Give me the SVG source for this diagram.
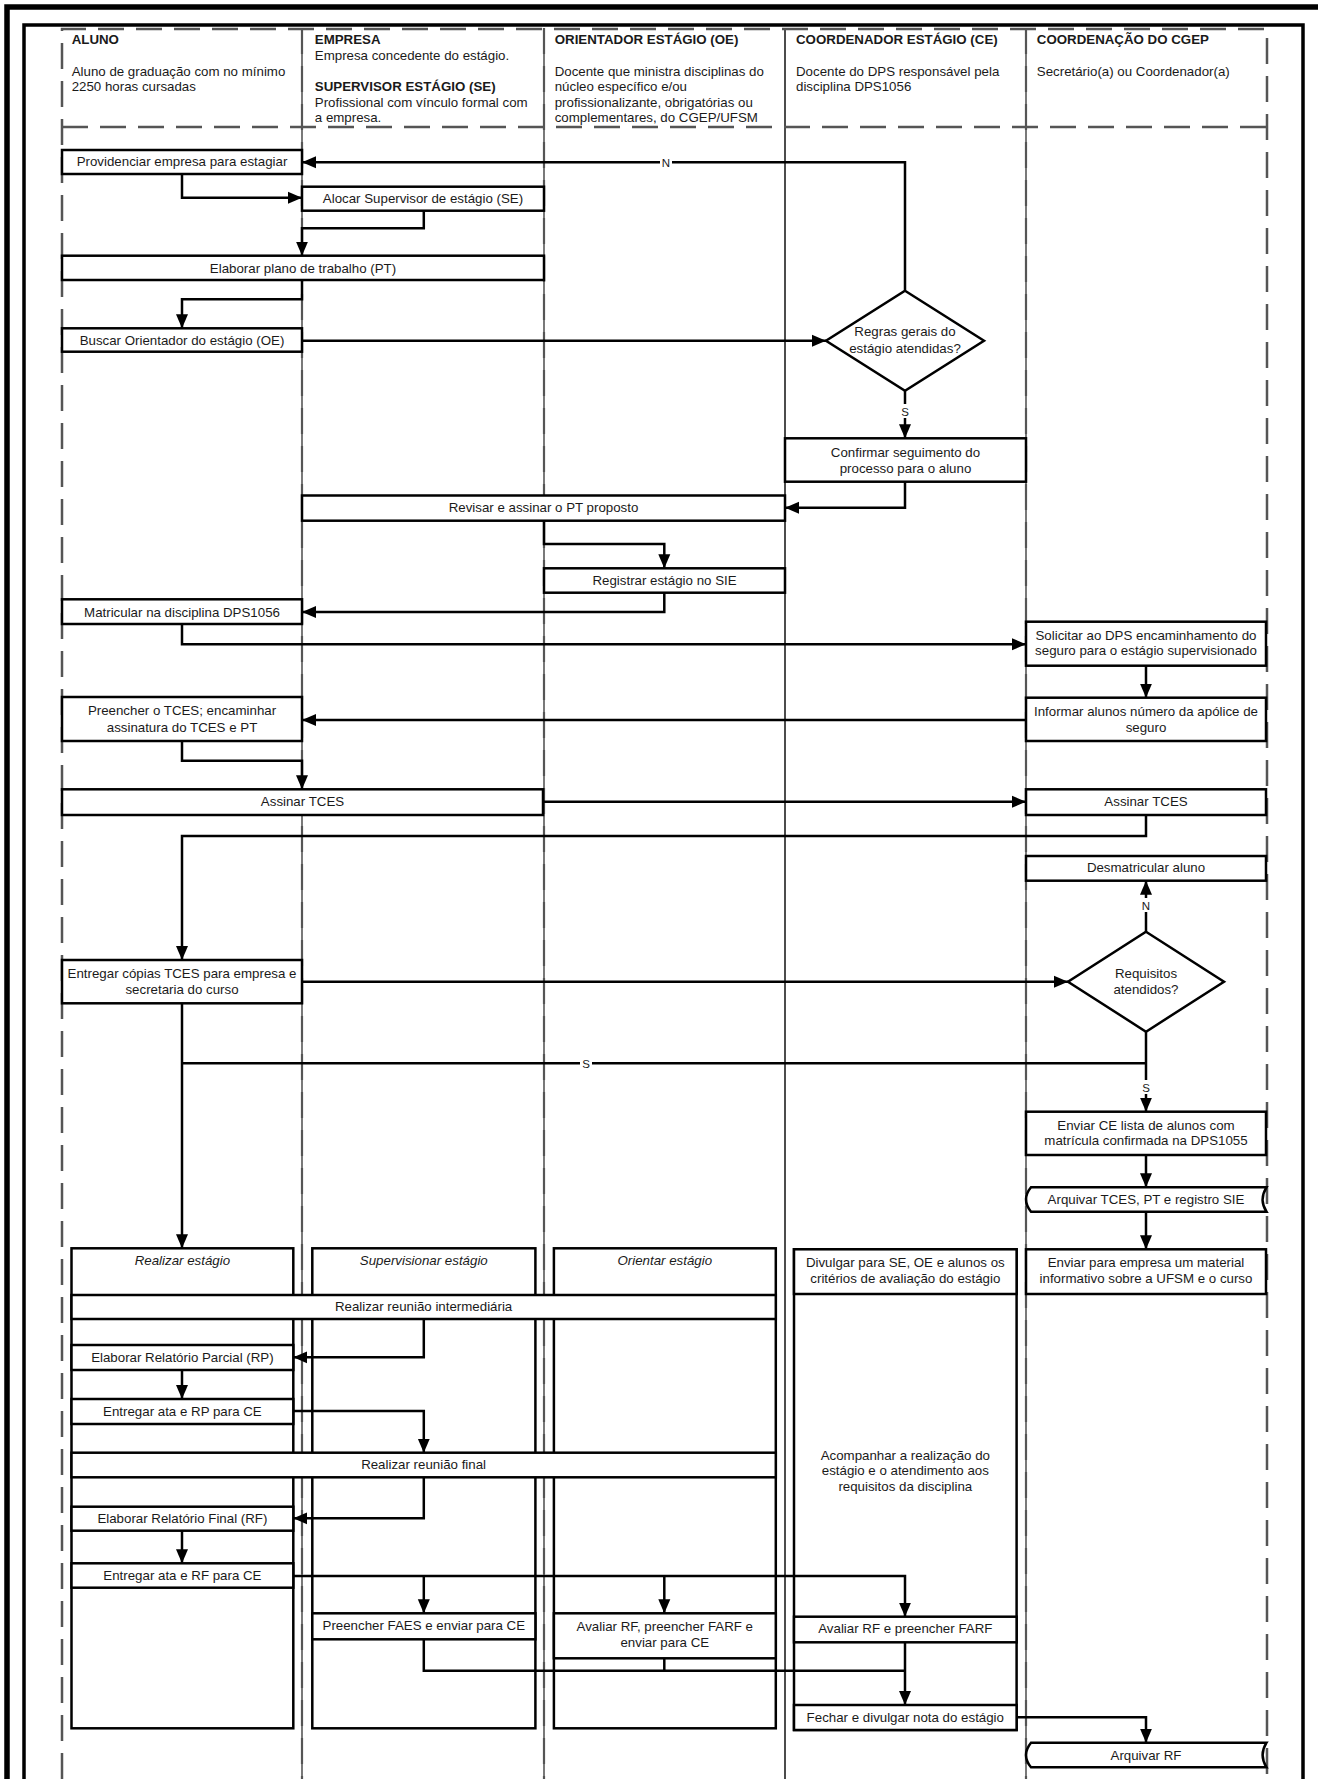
<svg xmlns="http://www.w3.org/2000/svg" width="1318" height="1779" viewBox="0 0 1318 1779">
<style>
.bx{fill:#fff;stroke:#000;stroke-width:2.5}
.ct{fill:none;stroke:#000;stroke-width:2.5}
.t{font-family:"Liberation Sans",Arial,sans-serif;font-size:13.3px;fill:#1a1a1a;text-anchor:middle}
.h{font-family:"Liberation Sans",Arial,sans-serif;font-size:13.3px;fill:#1a1a1a}
.hb{font-weight:bold}
.it{font-style:italic}
.c{fill:none;stroke:#000;stroke-width:2.5}
.a{marker-end:url(#ah)}
.lb{font-family:"Liberation Sans",Arial,sans-serif;font-size:11.5px;fill:#1a1a1a;text-anchor:middle}
.pool{fill:none;stroke:#555;stroke-width:2.5;stroke-dasharray:26 12}
.sep{fill:none;stroke:#222;stroke-width:1.2}
.sepd{fill:none;stroke:#555;stroke-width:2.2;stroke-dasharray:26 12}
</style>
<defs>
<marker id="ah" markerUnits="userSpaceOnUse" markerWidth="14" markerHeight="13" viewBox="0 0 14 13" refX="14" refY="6.5" orient="auto">
<path d="M0,0.5 L14,6.5 L0,12.5 Z" fill="#000"/>
</marker>
</defs>
<rect width="1318" height="1779" fill="#fff"/>
<g id="frame">
<path d="M7,1790 V7 H1330" fill="none" stroke="#000" stroke-width="5.5"/>
<path d="M24,1790 V25 H1303 V1790" fill="none" stroke="#000" stroke-width="3.5"/>
</g>
<g id="pool">
<path class="sep" d="M302,28 V1779 M544,28 V1779 M1026,28 V1779"/>
<path class="sepd" d="M302,28 V1779 M544,28 V1779 M1026,28 V1779"/>
<path d="M785,28 V1779" fill="none" stroke="#111" stroke-width="1.5"/>
<path class="pool" d="M62,1779 V29 H1267 V1779"/>
<path class="pool" d="M62,127 H1267"/>
</g>
<g id="headers">
<text class="h hb" x="71.7" y="43.5">ALUNO</text>
<text class="h" x="71.7" y="75.5">Aluno de graduação com no mínimo</text>
<text class="h" x="71.7" y="91.2">2250 horas cursadas</text>
<text class="h hb" x="314.8" y="43.5">EMPRESA</text>
<text class="h" x="314.8" y="59.5">Empresa concedente do estágio.</text>
<text class="h hb" x="314.8" y="91.2">SUPERVISOR ESTÁGIO (SE)</text>
<text class="h" x="314.8" y="106.8">Profissional com vínculo formal com</text>
<text class="h" x="314.8" y="122">a empresa.</text>
<text class="h hb" x="554.7" y="43.5">ORIENTADOR ESTÁGIO (OE)</text>
<text class="h" x="554.7" y="75.5">Docente que ministra disciplinas do</text>
<text class="h" x="554.7" y="91.2">núcleo específico e/ou</text>
<text class="h" x="554.7" y="106.8">profissionalizante, obrigatórias ou</text>
<text class="h" x="554.7" y="122">complementares, do CGEP/UFSM</text>
<text class="h hb" x="796" y="43.5">COORDENADOR ESTÁGIO (CE)</text>
<text class="h" x="796" y="75.5">Docente do DPS responsável pela</text>
<text class="h" x="796" y="91.2">disciplina DPS1056</text>
<text class="h hb" x="1036.8" y="43.5">COORDENAÇÃO DO CGEP</text>
<text class="h" x="1036.8" y="75.5">Secretário(a) ou Coordenador(a)</text>
</g>
<g id="containers">
<g id="n-realizar-estagio"><rect class="ct" x="71.5" y="1248.3" width="221.8" height="480"/><text class="t it" x="182.4" y="1264.7">Realizar estágio</text></g>
<g id="n-supervisionar"><rect class="ct" x="312.3" y="1248.3" width="223.1" height="480"/><text class="t it" x="423.8" y="1264.7">Supervisionar estágio</text></g>
<g id="n-orientar"><rect class="ct" x="553.9" y="1248.3" width="221.9" height="480"/><text class="t it" x="664.8" y="1264.7">Orientar estágio</text></g>
<g id="n-acompanhar"><rect class="ct" x="794" y="1249.3" width="222.6" height="480.7"/><text class="t" x="905.3" y="1459.7">Acompanhar a realização do</text><text class="t" x="905.3" y="1475.4">estágio e o atendimento aos</text><text class="t" x="905.3" y="1491.4">requisitos da disciplina</text></g>
</g>
<g id="connectors">
<path class="c a" d="M905,290 V162.3 H302"/>
<path class="c a" d="M182,174 V197.7 H302"/>
<path class="c a" d="M423.8,210.7 V228.3 H302 V255.7"/>
<path class="c a" d="M302,280 V299.3 H182 V328.3"/>
<path class="c a" d="M302,340.7 H826"/>
<path class="c a" d="M905,390.7 V438.3"/>
<path class="c a" d="M905,481.7 V507.7 H785"/>
<path class="c a" d="M544,520.7 V544 H664.3 V568.3"/>
<path class="c a" d="M664.3,592.7 V612 H302"/>
<path class="c a" d="M182,624 V644.3 H1026"/>
<path class="c a" d="M1146,665.7 V697.7"/>
<path class="c a" d="M1026,720 H302"/>
<path class="c a" d="M182,741 V760.7 H302 V789.3"/>
<path class="c a" d="M543,801.7 H1026"/>
<path class="c a" d="M1146,815 V836 H182 V960"/>
<path class="c a" d="M302,981.7 H1068"/>
<path class="c a" d="M1146,931.7 V880.7"/>
<path class="c a" d="M1146,1031.7 V1111.7"/>
<path class="c" d="M1146,1063.3 H182"/>
<path class="c a" d="M182,1003.3 V1248.3"/>
<path class="c a" d="M1146,1155 V1187.3"/>
<path class="c a" d="M1146,1211.7 V1249.3"/>
<path class="c a" d="M423.8,1319 V1357.3 H293.3"/>
<path class="c a" d="M182,1370 V1399"/>
<path class="c a" d="M293.3,1411 H423.8 V1452.7"/>
<path class="c a" d="M423.8,1477.3 V1518.3 H293.3"/>
<path class="c a" d="M182,1530.7 V1563.3"/>
<path class="c a" d="M293.3,1576 H905 V1616.7"/>
<path class="c a" d="M423.8,1576 V1613.3"/>
<path class="c a" d="M664.3,1576 V1613.3"/>
<path class="c" d="M423.8,1639.3 V1670.7 H905"/>
<path class="c" d="M664.3,1658.3 V1670.7"/>
<path class="c a" d="M905,1642.3 V1705"/>
<path class="c a" d="M1016.6,1717.3 H1146 V1742.7"/>
<g id="labels">
<rect x="660" y="155" width="12" height="14" fill="#fff"/><text class="lb" x="666" y="166.5">N</text>
<rect x="899" y="404" width="12" height="14" fill="#fff"/><text class="lb" x="905" y="415.5">S</text>
<rect x="1140" y="898" width="12" height="14" fill="#fff"/><text class="lb" x="1146" y="909.5">N</text>
<rect x="580" y="1056" width="12" height="14" fill="#fff"/><text class="lb" x="586" y="1067.5">S</text>
<rect x="1140" y="1080" width="12" height="14" fill="#fff"/><text class="lb" x="1146" y="1091.5">S</text>
</g>
</g>
<g id="nodes">
<g id="n1"><rect class="bx" x="62" y="150" width="240" height="24"/><text class="t" x="182" y="166.4">Providenciar empresa para estagiar</text></g>
<g id="n2"><rect class="bx" x="302" y="186.7" width="242" height="24"/><text class="t" x="423" y="203">Alocar Supervisor de estágio (SE)</text></g>
<g id="n3"><rect class="bx" x="62" y="255.7" width="482" height="24.3"/><text class="t" x="303" y="273">Elaborar plano de trabalho (PT)</text></g>
<g id="n4"><rect class="bx" x="62" y="328.3" width="240" height="23.4"/><text class="t" x="182" y="344.7">Buscar Orientador do estágio (OE)</text></g>
<g id="n5"><polygon class="bx" points="905,290.7 984,340.7 905,390.7 826,340.7"/><text class="t" x="905" y="336.4">Regras gerais do</text><text class="t" x="905" y="353">estágio atendidas?</text></g>
<g id="n6"><rect class="bx" x="785" y="438.3" width="241" height="43.4"/><text class="t" x="905.5" y="457">Confirmar seguimento do</text><text class="t" x="905.5" y="473">processo para o aluno</text></g>
<g id="n7"><rect class="bx" x="302" y="495.5" width="483" height="25.2"/><text class="t" x="543.5" y="512">Revisar e assinar o PT proposto</text></g>
<g id="n8"><rect class="bx" x="544" y="568.3" width="241" height="24.4"/><text class="t" x="664.5" y="584.7">Registrar estágio no SIE</text></g>
<g id="n9"><rect class="bx" x="62" y="599.3" width="240" height="24.7"/><text class="t" x="182" y="616.5">Matricular na disciplina DPS1056</text></g>
<g id="n10"><rect class="bx" x="1026" y="621.7" width="240" height="44"/><text class="t" x="1146" y="639.7">Solicitar ao DPS encaminhamento do</text><text class="t" x="1146" y="655.4">seguro para o estágio supervisionado</text></g>
<g id="n11"><rect class="bx" x="1026" y="697.7" width="240" height="43.3"/><text class="t" x="1146" y="715.7">Informar alunos número da apólice de</text><text class="t" x="1146" y="732">seguro</text></g>
<g id="n12"><rect class="bx" x="62" y="697" width="240" height="44"/><text class="t" x="182" y="715.4">Preencher o TCES; encaminhar</text><text class="t" x="182" y="732">assinatura do TCES e PT</text></g>
<g id="n13"><rect class="bx" x="62" y="789.3" width="481" height="25.7"/><text class="t" x="302.5" y="806">Assinar TCES</text></g>
<g id="n14"><rect class="bx" x="1026" y="789.3" width="240" height="25.7"/><text class="t" x="1146" y="806">Assinar TCES</text></g>
<g id="n15"><rect class="bx" x="1026" y="856" width="240" height="24.7"/><text class="t" x="1146" y="872.4">Desmatricular aluno</text></g>
<g id="n16"><rect class="bx" x="62" y="960" width="240" height="43.3"/><text class="t" x="182" y="978">Entregar cópias TCES para empresa e</text><text class="t" x="182" y="994">secretaria do curso</text></g>
<g id="n17"><polygon class="bx" points="1146,931.7 1224,981.7 1146,1031.7 1068,981.7"/><text class="t" x="1146" y="978">Requisitos</text><text class="t" x="1146" y="994">atendidos?</text></g>
<g id="n18"><rect class="bx" x="1026" y="1111.7" width="240" height="43.3"/><text class="t" x="1146" y="1129.7">Enviar CE lista de alunos com</text><text class="t" x="1146" y="1145.4">matrícula confirmada na DPS1055</text></g>
<g id="n19"><path class="bx" d="M1031,1187.3 H1266.5 Q1258.7,1199.5 1266.5,1211.7 H1031 Q1021,1199.5 1031,1187.3 Z"/><text class="t" x="1146" y="1203.7">Arquivar TCES, PT e registro SIE</text></g>
<g id="n20"><rect class="bx" x="794" y="1249.3" width="222.6" height="44.7"/><text class="t" x="905.3" y="1267">Divulgar para SE, OE e alunos os</text><text class="t" x="905.3" y="1283">critérios de avaliação do estágio</text></g>
<g id="n21"><rect class="bx" x="1026" y="1249.3" width="240" height="44.7"/><text class="t" x="1146" y="1267">Enviar para empresa um material</text><text class="t" x="1146" y="1283">informativo sobre a UFSM e o curso</text></g>
<g id="n22"><rect class="bx" x="71.5" y="1295" width="704.3" height="24"/><text class="t" x="423.6" y="1311.4">Realizar reunião intermediária</text></g>
<g id="n23"><rect class="bx" x="71.5" y="1345" width="221.8" height="25"/><text class="t" x="182.4" y="1361.7">Elaborar Relatório Parcial (RP)</text></g>
<g id="n24"><rect class="bx" x="71.5" y="1399" width="221.8" height="25"/><text class="t" x="182.4" y="1415.7">Entregar ata e RP para CE</text></g>
<g id="n25"><rect class="bx" x="71.5" y="1452.7" width="704.3" height="24.6"/><text class="t" x="423.6" y="1469">Realizar reunião final</text></g>
<g id="n26"><rect class="bx" x="71.5" y="1506.7" width="221.8" height="24"/><text class="t" x="182.4" y="1523">Elaborar Relatório Final (RF)</text></g>
<g id="n27"><rect class="bx" x="71.5" y="1563.3" width="221.8" height="24.4"/><text class="t" x="182.4" y="1579.7">Entregar ata e RF para CE</text></g>
<g id="n28"><rect class="bx" x="312.3" y="1613.3" width="223.1" height="26"/><text class="t" x="423.8" y="1630.4">Preencher FAES e enviar para CE</text></g>
<g id="n29"><rect class="bx" x="553.9" y="1613.3" width="221.9" height="45"/><text class="t" x="664.8" y="1631.4">Avaliar RF, preencher FARF e</text><text class="t" x="664.8" y="1647.4">enviar para CE</text></g>
<g id="n30"><rect class="bx" x="794" y="1616.7" width="222.6" height="25.6"/><text class="t" x="905.3" y="1633">Avaliar RF e preencher FARF</text></g>
<g id="n31"><rect class="bx" x="794" y="1705" width="222.6" height="25"/><text class="t" x="905.3" y="1722">Fechar e divulgar nota do estágio</text></g>
<g id="n32"><path class="bx" d="M1031,1742.7 H1266.5 Q1258.7,1755 1266.5,1767.3 H1031 Q1021,1755 1031,1742.7 Z"/><text class="t" x="1146" y="1759.7">Arquivar RF</text></g>
</g>
</svg>
